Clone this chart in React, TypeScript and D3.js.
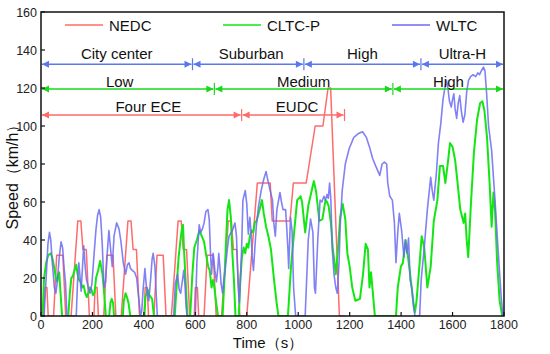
import React from 'react'
import * as d3 from 'd3'

// time (s), speed (km/h)
const nedc: [number, number][] = [
  [0, 0], [11, 0], [15, 15], [23, 15], [28, 0], [49, 0], [61, 32], [85, 32], [96, 0], [117, 0], [143, 50], [155, 50], [163, 35], [176, 35], [188, 0],
  [206, 0], [210, 15], [218, 15], [223, 0], [244, 0], [256, 32], [280, 32], [291, 0], [312, 0], [338, 50], [350, 50], [358, 35], [371, 35], [383, 0],
  [401, 0], [405, 15], [413, 15], [418, 0], [439, 0], [451, 32], [475, 32], [486, 0], [507, 0], [533, 50], [545, 50], [553, 35], [566, 35], [578, 0],
  [596, 0], [600, 15], [608, 15], [613, 0], [634, 0], [646, 32], [670, 32], [681, 0], [702, 0], [728, 50], [740, 50], [748, 35], [761, 35], [773, 0],
  [800, 0], [841, 70], [891, 70], [899, 50], [968, 50], [981, 70], [1031, 70], [1066, 100], [1096, 100], [1116, 120], [1126, 120], [1160, 0], [1180, 0],
]

const cltc: [number, number][] = [
  [0, 0], [6, 0], [12, 20], [20, 28], [28, 32], [38, 33], [45, 30], [52, 25], [58, 20], [63, 18], [67, 22], [71, 23], [76, 12], [82, 0],
  [106, 0], [112, 12], [118, 20], [124, 21], [130, 24], [137, 27], [142, 22], [148, 19], [154, 18], [160, 15], [166, 16], [172, 12], [178, 10],
  [184, 12], [190, 15], [196, 14], [202, 11], [208, 12], [214, 20], [222, 24], [230, 29], [239, 22], [245, 13], [252, 0],
  [265, 0], [270, 7], [275, 9], [280, 7], [284, 0], [318, 0], [322, 8], [329, 12], [334, 10], [340, 7], [347, 0],
  [402, 0], [406, 10], [415, 14], [421, 11], [432, 9], [439, 0], [520, 0], [526, 13], [535, 31], [544, 42], [549, 47], [552, 48], [556, 35], [562, 19], [569, 0],
  [580, 0], [588, 21], [596, 36], [606, 40], [616, 45], [625, 42], [634, 39], [641, 33], [650, 26], [656, 24], [663, 15], [669, 19], [675, 14], [681, 7], [688, 0],
  [706, 0], [713, 19], [719, 38], [725, 56], [731, 61], [738, 52], [744, 33], [750, 19], [756, 0],
  [769, 0], [775, 19], [781, 31], [788, 36], [794, 33], [800, 38], [806, 36], [812, 42], [819, 45], [825, 44], [831, 49], [838, 50], [844, 53], [850, 56],
  [859, 61], [866, 54], [875, 47], [884, 42], [894, 35], [906, 19], [916, 7], [923, 0],
  [960, 0], [972, 26], [984, 44], [996, 61], [1009, 63], [1015, 60], [1027, 44], [1039, 58], [1054, 67], [1061, 71], [1070, 65], [1082, 50], [1094, 51],
  [1106, 61], [1112, 60], [1118, 58], [1127, 49], [1134, 36], [1140, 29], [1146, 22], [1155, 36], [1163, 52], [1173, 59], [1183, 51], [1191, 33],
  [1200, 26], [1210, 15], [1222, 8], [1240, 9], [1252, 22], [1262, 38], [1271, 35], [1277, 15], [1283, 23], [1289, 14], [1298, 0],
  [1380, 0], [1387, 15], [1399, 26], [1407, 28], [1417, 40], [1427, 31], [1435, 22], [1448, 7], [1454, 2], [1460, 8], [1472, 28], [1480, 42], [1490, 36],
  [1502, 15], [1515, 26], [1527, 50], [1541, 61], [1551, 79], [1563, 79], [1572, 70], [1582, 81], [1590, 91], [1600, 89], [1610, 82], [1618, 72],
  [1630, 56], [1643, 49], [1649, 54], [1655, 40], [1661, 31], [1671, 58], [1683, 86], [1695, 103], [1707, 112], [1716, 113], [1724, 108], [1734, 94],
  [1744, 70], [1752, 47], [1759, 65], [1765, 56], [1773, 29], [1783, 8], [1793, 0], [1800, 0],
]

const wltc: [number, number][] = [
  [0, 0], [12, 0], [20, 20], [27, 38], [33, 44], [38, 40], [44, 28], [52, 15], [58, 12], [64, 19], [71, 31], [78, 39], [84, 36], [90, 25], [95, 18], [101, 0],
  [137, 0], [142, 18], [147, 28], [151, 22], [156, 13], [161, 25], [166, 37], [171, 27], [177, 19], [184, 15], [191, 12], [198, 17], [206, 32], [214, 46],
  [220, 53], [226, 56], [232, 52], [238, 38], [245, 15], [251, 18], [258, 34], [264, 45], [270, 36], [277, 26], [284, 42], [294, 49], [303, 46], [310, 40],
  [320, 28], [329, 22], [336, 27], [342, 28], [348, 25], [355, 24], [364, 23], [372, 20], [381, 8], [387, 0], [392, 3], [397, 14], [404, 25], [410, 15],
  [419, 8], [426, 19], [432, 30], [436, 33], [443, 26], [452, 0], [516, 0], [522, 17], [531, 22], [537, 14], [543, 12], [549, 18], [555, 24], [560, 16],
  [564, 5], [568, 0], [600, 0], [606, 28], [615, 48], [621, 44], [628, 46], [634, 49], [641, 55], [649, 56], [654, 51], [659, 33], [663, 22], [669, 33],
  [676, 24], [682, 18], [688, 26], [691, 33], [696, 25], [700, 17], [706, 12], [710, 18], [716, 24], [725, 36], [731, 42], [744, 45], [754, 49], [760, 42],
  [763, 30], [766, 17], [771, 7], [779, 31], [785, 61], [794, 66], [800, 59], [806, 43], [812, 52], [816, 45], [821, 31], [826, 24], [831, 35], [837, 47],
  [846, 58], [856, 66], [866, 72], [875, 76], [881, 72], [891, 66], [900, 61], [905, 49], [911, 42], [917, 56], [929, 65], [935, 60], [941, 56], [951, 56],
  [956, 45], [960, 35], [963, 25], [970, 52], [976, 45], [982, 15], [990, 0], [1027, 0], [1039, 40], [1048, 51], [1057, 44], [1063, 15], [1067, 12],
  [1076, 40], [1085, 61], [1092, 60], [1100, 63], [1106, 61], [1112, 64], [1117, 62], [1122, 70], [1127, 61], [1132, 36], [1139, 22], [1146, 15],
  [1152, 12], [1159, 29], [1163, 47], [1171, 66], [1183, 80], [1198, 88], [1216, 94], [1234, 96], [1250, 97], [1265, 94], [1277, 89], [1289, 83],
  [1301, 79], [1317, 74], [1326, 80], [1335, 81], [1344, 80], [1348, 70], [1356, 63], [1366, 61], [1374, 49], [1380, 28], [1387, 44], [1393, 54],
  [1402, 45], [1411, 31], [1417, 40], [1423, 33], [1429, 41], [1435, 19], [1441, 15], [1448, 5], [1454, 0], [1472, 0], [1478, 19], [1490, 36],
  [1502, 56], [1515, 73], [1521, 66], [1527, 61], [1537, 75], [1545, 91], [1554, 101], [1563, 114], [1570, 120], [1576, 124], [1582, 120], [1588, 113],
  [1595, 110], [1600, 114], [1605, 117], [1610, 109], [1616, 104], [1622, 112], [1628, 116], [1634, 108], [1641, 102], [1648, 106], [1655, 118],
  [1662, 124], [1670, 126], [1680, 127], [1690, 126], [1698, 128], [1705, 127], [1712, 129], [1720, 131], [1726, 129], [1732, 118], [1740, 100],
  [1752, 87], [1765, 61], [1777, 35], [1789, 10], [1796, 0], [1800, 0],
]

// phase spans (s)
const wltcPhases = [
  { name: 'City center', start: 0, end: 589 },
  { name: 'Suburban', start: 589, end: 1022 },
  { name: 'High', start: 1022, end: 1477 },
  { name: 'Ultra-H', start: 1477, end: 1800 },
]
const cltcPhases = [
  { name: 'Low', start: 0, end: 674 },
  { name: 'Medium', start: 674, end: 1368 },
  { name: 'High', start: 1368, end: 1800 },
]
const nedcPhases = [
  { name: 'Four ECE', start: 0, end: 780 },
  { name: 'EUDC', start: 780, end: 1180 },
]

const xTicks = [0, 200, 400, 600, 800, 1000, 1200, 1400, 1600, 1800]
const yTicks = [0, 20, 40, 60, 80, 100, 120, 140, 160]

const RED = '#ff6b6b'
const GREEN = '#14e614'
const BLUE = '#6b6bf5'
const FONT = 'Arial, "Liberation Sans", Helvetica, sans-serif'

const W = 550
const H = 354
const left = 41
const right = 504
const top = 12
const bottom = 316

function PhaseRow({ phases, level, color, x, y, labelGap, nudge }: any) {
  const yy = y(level)
  const ah = 7
  const aw = 3.5
  return (
    <g>
      {phases.map((p: any, i: number) => {
        const x0 = x(p.start)
        const x1 = x(p.end)
        const mid = (x0 + x1) / 2 + (nudge[p.name] || 0)
        return (
          <g key={i}>
            <line x1={x0 + 1} x2={x1 - 1} y1={yy} y2={yy} stroke={color} strokeWidth={1.4} />
            <path d={`M${x0 + 1},${yy} L${x0 + 1 + ah},${yy - aw} L${x0 + 1 + ah},${yy + aw} Z`} fill={color} />
            <path d={`M${x1 - 1},${yy} L${x1 - 1 - ah},${yy - aw} L${x1 - 1 - ah},${yy + aw} Z`} fill={color} />
            {p.end < 1800 && (
              <line x1={x1} x2={x1} y1={yy - 6} y2={yy + 6} stroke={color} strokeWidth={1.2} />
            )}
            <text x={mid} y={yy - labelGap} textAnchor="middle" fontSize={15} fontFamily={FONT} fill="#111">{p.name}</text>
          </g>
        )
      })}
    </g>
  )
}

export default function App() {
  const x = d3.scaleLinear().domain([0, 1800]).range([left, right])
  const y = d3.scaleLinear().domain([0, 160]).range([bottom, top])
  const line = d3.line<[number, number]>().x(d => x(d[0])).y(d => y(d[1]))

  const legend = [
    { name: 'NEDC', color: RED, x0: 65 },
    { name: 'CLTC-P', color: GREEN, x0: 223 },
    { name: 'WLTC', color: BLUE, x0: 392 },
  ]

  return (
    <div style={{ position: 'absolute', left: 0, top: 0 }}>
      <svg width={W} height={H} style={{ display: 'block', background: '#fff' }}>
        <defs>
          <clipPath id="plot">
            <rect x={left} y={top} width={right - left} height={bottom - top} />
          </clipPath>
        </defs>

        <g clipPath="url(#plot)" fill="none" strokeLinejoin="round">
          <path d={line(nedc) || ''} stroke={RED} strokeWidth={1.5} />
          <path d={line(cltc) || ''} stroke={GREEN} strokeWidth={2} />
          <path d={line(wltc) || ''} stroke={BLUE} strokeWidth={1.6} strokeOpacity={0.85} />
        </g>

        {/* phase arrows */}
        <PhaseRow phases={wltcPhases} level={132.5} color="#5a78ee" x={x} y={y} labelGap={5} nudge={{ Suburban: 3 }} />
        <PhaseRow phases={cltcPhases} level={119.5} color="#19d819" x={x} y={y} labelGap={2} nudge={{ Low: -8 }} />
        <PhaseRow phases={nedcPhases} level={105.8} color={RED} x={x} y={y} labelGap={3} nudge={{ 'Four ECE': 7, EUDC: 4 }} />

        {/* legend */}
        {legend.map(l => (
          <g key={l.name}>
            <line x1={l.x0} x2={l.x0 + 38} y1={25} y2={25} stroke={l.color} strokeWidth={1.6} />
            <text x={l.x0 + 44} y={31} fontSize={15} fontFamily={FONT} fill="#111">{l.name}</text>
          </g>
        ))}

        {/* frame */}
        <rect x={left} y={top} width={right - left} height={bottom - top} fill="none" stroke="#111" strokeWidth={1.5} />

        {/* x axis */}
        {xTicks.map(t => (
          <g key={t}>
            <line x1={x(t)} x2={x(t)} y1={bottom} y2={bottom - 4} stroke="#111" strokeWidth={1.2} />
            <text x={x(t)} y={329} textAnchor="middle" fontSize={12.5} fontFamily={FONT} fill="#222">{t}</text>
          </g>
        ))}
        {/* y axis */}
        {yTicks.map(t => (
          <g key={t}>
            <line x1={left} x2={left + 4} y1={y(t)} y2={y(t)} stroke="#111" strokeWidth={1.2} />
            <text x={left - 4} y={y(t) + 4.5} textAnchor="end" fontSize={12.5} fontFamily={FONT} fill="#222">{t}</text>
          </g>
        ))}

        <text x={268} y={348} textAnchor="middle" fontSize={15} fontFamily={FONT} fill="#111">Time（s）</text>
        <text transform="translate(18,173) rotate(-90)" textAnchor="middle" fontSize={16} fontFamily={FONT} fill="#111">Speed（km/h）</text>
      </svg>
    </div>
  )
}
